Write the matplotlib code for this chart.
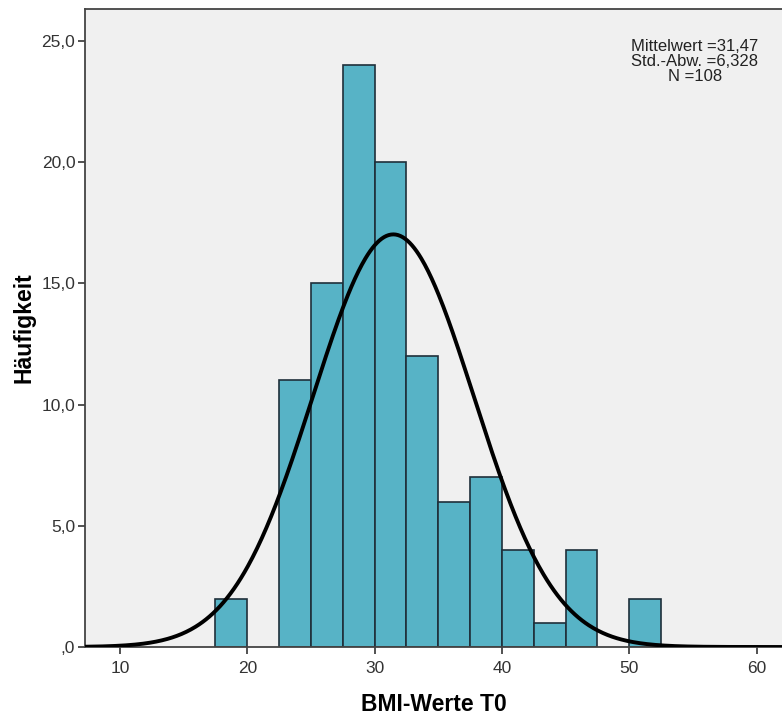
import numpy as np
import matplotlib
matplotlib.use("Agg")
import matplotlib.pyplot as plt
from matplotlib.ticker import FuncFormatter

plt.rcParams["font.family"] = ["Liberation Sans", "DejaVu Sans"]

# histogram bins (BMI, width 2.5) and counts
bin_edges = [17.5, 20.0, 22.5, 25.0, 27.5, 30.0, 32.5, 35.0, 37.5, 40.0, 42.5, 45.0, 47.5, 50.0, 52.5]
counts = [2, 0, 11, 15, 24, 20, 12, 6, 7, 4, 1, 4, 0, 2]
mean = 31.47
std = 6.328
n_total = 108
x_ticks = [10, 20, 30, 40, 50, 60]
y_ticks = [0, 5, 10, 15, 20, 25]

fig = plt.figure(figsize=(7.82, 7.16), dpi=100)
ax = fig.add_axes([85/782, 69/716, 697/782, 638/716])
ax.set_facecolor("#f0f0f0")

edges = np.array(bin_edges)
widths = np.diff(edges)
for left, w, c in zip(edges[:-1], widths, counts):
    if c > 0:
        ax.bar(left, c, width=w, align="edge", color="#57b3c6",
               edgecolor="#1f2f3a", linewidth=1.2, zorder=2)

# fitted normal curve scaled to counts
xs = np.linspace(7.25, 62, 600)
bw = widths[0]
ys = n_total * bw / (std * np.sqrt(2 * np.pi)) * np.exp(-0.5 * ((xs - mean) / std) ** 2)
ax.plot(xs, ys, color="black", linewidth=2.8, zorder=3)

ax.set_xlim(7.25, 62)
ax.set_ylim(0, 26.32)
ax.set_xticks(x_ticks)
ax.set_yticks(y_ticks)
ax.yaxis.set_major_formatter(FuncFormatter(
    lambda v, p: ",0" if v == 0 else f"{v:.1f}".replace(".", ",")))
ax.tick_params(axis="both", direction="out", length=5, width=1.2,
               colors="#333333", labelsize=12.5, labelcolor="#333333")
ax.tick_params(axis="x", pad=5)
ax.tick_params(axis="y", pad=2)

for side in ["left", "bottom", "top"]:
    ax.spines[side].set_color("#444444")
    ax.spines[side].set_linewidth(1.3)
ax.spines["right"].set_visible(False)

ax.set_xlabel("BMI-Werte T0", fontsize=16.5, fontweight="bold", labelpad=12)
ax.set_ylabel("Häufigkeit", fontsize=16.5, fontweight="bold", labelpad=4)

stats = (f"Mittelwert ={mean:.2f}\nStd.-Abw. ={std:.3f}\nN ={n_total}").replace(".", ",")
stats = stats.replace("Std,-Abw,", "Std.-Abw.")
ax.text(0.875, 0.953, stats,
        transform=ax.transAxes, ha="center", va="top", fontsize=12,
        color="#222222", linespacing=0.98, multialignment="center")

fig.savefig("out.png", dpi=100)
